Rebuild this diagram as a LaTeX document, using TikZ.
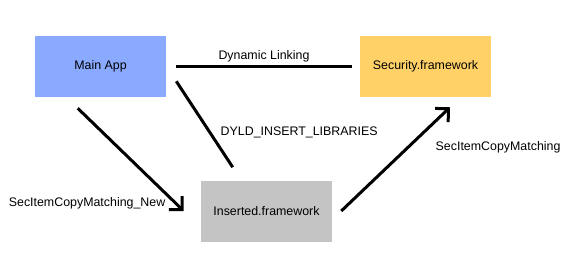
\documentclass[tikz,border=0pt]{standalone}
\usepackage{fontspec}
\setmainfont{Liberation Sans}
\usetikzlibrary{arrows.meta}
\definecolor{appblue}{HTML}{8AAAFF}
\definecolor{secyellow}{HTML}{FFD166}
\definecolor{insgray}{HTML}{C4C4C4}

\begin{document}
\begin{tikzpicture}[x=0.75pt,y=-0.75pt,font=\fontsize{9.3}{11}\selectfont,
  box/.style={minimum width=98.25pt,minimum height=45.75pt,inner sep=0pt},
  link/.style={black,line width=2.25pt},
  call/.style={link,-{Straight Barb[angle=90:10pt]}}]

% Canvas
\useasboundingbox (0,0) rectangle (577,279);

% Boxes
\node[box,fill=appblue] (app) at (100.5,66.5) {Main App};
\node[box,fill=secyellow] (sec) at (425.5,66.5) {Security.framework};
\node[box,fill=insgray] (ins) at (266.5,211) {Inserted.framework};

% Linking
\draw[link] ([shift={(10,0)}]app.east) -- ([shift={(-8,0)}]sec.west)
  node[midway,above=2pt,inner sep=0pt] (dynlbl) {Dynamic Linking};
\draw[link] ([shift={(10,-16)}]app.south east) -- ([shift={(32,-13)}]ins.north west);
\node[anchor=west] (dyldlbl) at (216,132) {DYLD\_INSERT\_LIBRARIES};

% Calls
\draw[call] ([shift={(43,11)}]app.south west) -- ([shift={(-17,0)}]ins.west);
\node[anchor=east] (newlbl) at (170,203) {SecItemCopyMatching\_New};
\draw[call] ([shift={(9,0)}]ins.east) -- ([shift={(24.5,10)}]sec.south);
\node[anchor=west] (oldlbl) at (431,147) {SecItemCopyMatching};
\end{tikzpicture}
\end{document}
